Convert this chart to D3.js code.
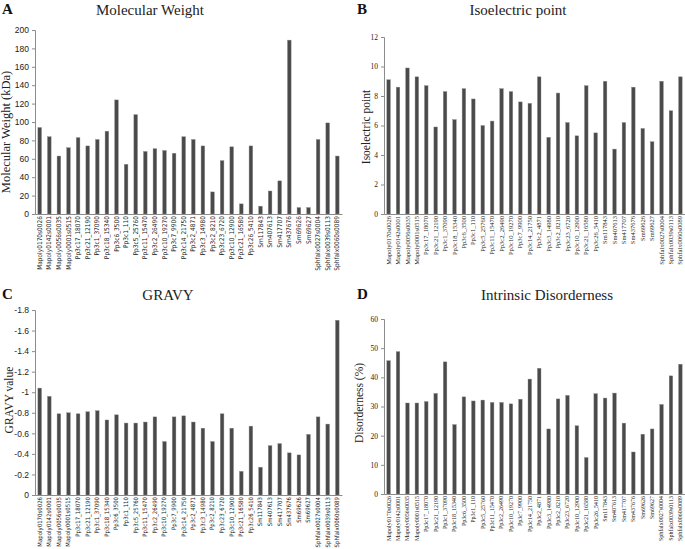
<!DOCTYPE html>
<html><head><meta charset="utf-8">
<script src="https://cdn.jsdelivr.net/npm/d3@7"></script>
<style>
body{margin:0;background:#fff;}
svg{display:block;}
</style></head>
<body><svg id="c" width="685" height="549"></svg>
<script>
const categories = ["Mapoly0170s0026","Mapoly0142s0001","Mapoly0056s0035","Mapoly0001s0515","Pp3c17_18070","Pp3c21_12190","Pp3c1_37090","Pp3c18_15340","Pp3c6_3500","Pp3c1_110","Pp3c5_25760","Pp3c11_15470","Pp3c2_26490","Pp3c10_19270","Pp3c7_9900","Pp3c14_21750","Pp3c2_4871","Pp3c3_14980","Pp3c2_8210","Pp3c23_6720","Pp3c10_12900","Pp3c21_16580","Pp3c26_5410","Sm117843","Sm407613","Sm417707","Sm437676","Sm69626","Sm69627","Sphfalx0027s0004","Sphfalx0039s0113","Sphfalx0060s0089"];
const molecularWeight = [94,84,63,72,83,74,81,90,124,54,108,68,71,69,66,84,81,74,24,58,73,11,74,8.5,25,36,189,7,7,81,99,63];
const isoelectricPoint = [9.1,8.6,9.9,9.3,8.7,5.9,8.3,6.4,8.5,7.8,6.0,6.3,8.5,8.3,7.6,7.5,9.3,5.2,8.2,6.2,5.3,8.7,5.5,9.0,4.4,6.2,8.6,5.8,4.9,9.0,7.0,9.3];
const gravy = [-1.04,-0.96,-0.79,-0.80,-0.79,-0.81,-0.82,-0.73,-0.78,-0.70,-0.70,-0.71,-0.76,-0.52,-0.76,-0.77,-0.71,-0.65,-0.52,-0.79,-0.65,-0.23,-0.67,-0.27,-0.48,-0.50,-0.41,-0.39,-0.59,-0.76,-0.69,-1.70];
const disorder = [45.7,48.8,31.2,31.2,31.7,34.5,45.3,23.8,33.3,31.9,32.2,31.4,31.4,30.9,32.5,39.4,43.1,22.3,32.6,33.8,23.4,12.5,34.4,32.9,34.6,24.3,14.4,20.5,22.3,30.7,40.5,44.5];
const ticksA = [0,20,40,60,80,100,120,140,160,180,200];
const ticksB = [0,2,4,6,8,10,12];
const ticksC = [0,-0.2,-0.4,-0.6,-0.8,-1,-1.2,-1.4,-1.6,-1.8];
const ticksD = [0,10,20,30,40,50,60];

const svg = d3.select("#c");
const SANS = "'Liberation Sans Narrow','DejaVu Sans Condensed','Liberation Sans',sans-serif";
const SERIF = "'Liberation Serif','DejaVu Serif',serif";

function panel(o){
  const g = svg.append("g");
  const x = d3.scaleBand().domain(categories).range([o.x0, o.x1]).paddingInner(0.62).paddingOuter(0.3);
  const y = d3.scaleLinear().domain(o.domain).range([o.yb, o.yt]);
  g.selectAll("rect.bar").data(o.values).join("rect")
    .attr("class","bar")
    .attr("x",(d,i)=>x(categories[i]))
    .attr("width",x.bandwidth())
    .attr("y",d=>Math.min(y(d),y(0)))
    .attr("height",d=>Math.abs(y(0)-y(d)))
    .attr("fill","#4a4a4a")
    .attr("stroke","#8a8a8a")
    .attr("stroke-width",0.4);
  const ya = d3.axisLeft(y).tickValues(o.ticks).tickSize(3).tickPadding(3).tickFormat(o.fmt);
  const yg = g.append("g").attr("transform",`translate(${o.x0},0)`).call(ya);
  yg.select(".domain").attr("stroke","#8c8c8c");
  yg.selectAll(".tick line").attr("stroke","#8c8c8c");
  yg.selectAll("text").attr("font-family",o.tickFont).attr("font-size",o.tickSize).attr("fill","#222");
  const xa = d3.axisBottom(x).tickSize(0).tickPadding(0);
  const xg = g.append("g").attr("transform",`translate(0,${y(0)})`).call(xa);
  xg.select(".domain").attr("stroke","#8c8c8c");
  xg.selectAll("text")
    .attr("font-family",o.labFont).attr("font-size",o.labSize).attr("fill","#1a1a1a")
    .attr("transform","rotate(-90)")
    .attr("text-anchor","end")
    .attr("dy","0.32em")
    .attr("x",-2).attr("y",0);
  g.append("text").attr("x",o.tx).attr("y",o.ty).attr("text-anchor","middle")
    .attr("font-family",SERIF).attr("font-size",15).attr("fill","#222").text(o.title);
  g.append("text").attr("x",o.lx).attr("y",o.ty-1).attr("font-family",SERIF)
    .attr("font-weight","bold").attr("font-size",15).attr("fill","#111").text(o.letter);
  g.append("text").attr("transform",`translate(${o.ylx},${o.yly}) rotate(-90)`)
    .attr("text-anchor","middle").attr("font-family",SERIF).attr("font-size",o.ylSize)
    .attr("fill","#222").text(o.ylabel);
}

panel({values:molecularWeight, domain:[0,200], ticks:ticksA, fmt:d3.format("d"),
  x0:35, x1:342, yb:214, yt:30, tickFont:"'Liberation Sans',sans-serif", tickSize:8.5,
  labFont:SANS, labSize:6.5, title:"Molecular Weight", tx:150, ty:15, lx:2, letter:"A",
  ylabel:"Molecular Weight (kDa)", ylx:10, yly:132, ylSize:12.5});
panel({values:isoelectricPoint, domain:[0,12], ticks:ticksB, fmt:d3.format("d"),
  x0:384, x1:685, yb:214, yt:37, tickFont:SERIF, tickSize:7.5,
  labFont:SERIF, labSize:6.5, title:"Isoelectric point", tx:518, ty:15, lx:357, letter:"B",
  ylabel:"Isoelectric point", ylx:370, yly:127, ylSize:11.5});
panel({values:gravy, domain:[0,-1.8], ticks:ticksC, fmt:d=>d===0?"0":String(d),
  x0:35, x1:342, yb:495, yt:310, tickFont:"'Liberation Sans',sans-serif", tickSize:8.5,
  labFont:SANS, labSize:6, title:"GRAVY", tx:168, ty:300, lx:2, letter:"C",
  ylabel:"GRAVY value", ylx:13, yly:400, ylSize:11.5});
panel({values:disorder, domain:[0,60], ticks:ticksD, fmt:d3.format("d"),
  x0:384, x1:685, yb:494, yt:319, tickFont:SERIF, tickSize:7.5,
  labFont:SERIF, labSize:6, title:"Intrinsic Disorderness", tx:547, ty:300, lx:357, letter:"D",
  ylabel:"Disorderness (%)", ylx:363, yly:403, ylSize:11.5});
</script></body></html>
